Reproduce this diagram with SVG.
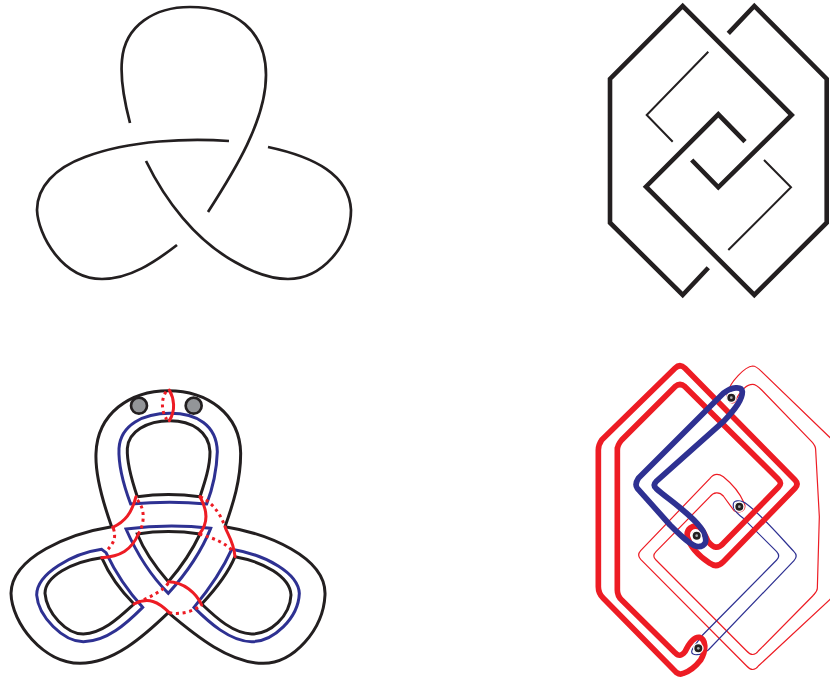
<svg xmlns="http://www.w3.org/2000/svg" width="830" height="679" viewBox="0 0 830 679">
<style>
path,polyline{fill:none;stroke-linecap:butt;stroke-linejoin:miter}
.k{stroke:#231f20}
.tre{stroke:#231f20;stroke-width:2.7}
.bk{stroke:#231f20;stroke-width:9}
.bl{stroke:#2e3192;stroke-width:9}
.rs{stroke:#ed1c24;stroke-width:9;stroke-linecap:round}
.rd{stroke:#ed1c24;stroke-width:9;stroke-dasharray:9 11}
.rt{stroke:#ed1c24;stroke-width:3.6}
.bt{stroke:#2e3192;stroke-width:3.6}
.rT{stroke:#ed1c24;stroke-width:17;stroke-linejoin:round}
.bT{stroke:#2e3192;stroke-width:17;stroke-linejoin:round}
</style>
<g id="trefoil-plain">
<path class="tre" d="M130,123C124,100 120,80 122,60C125,25 155,7 190,7C235,7 266,30 266,75C266,120 235,170 208,212"/>
<path class="tre" d="M229,141C190,138 130,140 85,157C55,168 37,187 37,210C38,235 62,279 102,279C130,279 155,262 177,245"/>
<path class="tre" d="M146,161C165,200 195,240 235,262C252,272 270,279 288,279C322,279 351,245 351,210C349,175 315,157 268,147"/>
</g>
<g id="grid-knot">
<polyline class="k" stroke-width="4.6" points="708.3,267.7 682.7,295 610,222.7 610,79 682.7,6 791.7,115 718.3,187.3 691.7,160"/>
<polyline class="k" stroke-width="4.6" points="728.3,33.3 754.3,6 826.7,79 826.7,222.7 754.3,295 646,186.7 718.3,114.3 745,141.7"/>
<polyline class="k" stroke-width="2" points="708.3,51.7 646.7,115 672.7,141.7"/>
<polyline class="k" stroke-width="2" points="764,160 791,187.3 728.3,250"/>
</g>
<g id="trefoil-surface" transform="translate(0 380) scale(.33333)">
<circle cx="417" cy="77" r="24" fill="#939598" stroke="#231f20" stroke-width="8"/>
<circle cx="581" cy="77" r="24" fill="#939598" stroke="#231f20" stroke-width="8"/>
<path class="bk" d="M335,440C310,370 285,290 288,220C292,100 390,32 505,32C620,32 720,100 722,220C722,300 700,370 675,440"/>
<path class="bk" d="M675,440C800,460 980,530 975,645C970,750 880,850 790,850C690,850 590,770 505,698"/>
<path class="bk" d="M335,440C210,460 35,530 33,640C35,730 130,850 240,850C340,850 430,770 505,698"/>
<path class="bk" d="M412,350C395,300 380,250 382,205C385,155 440,122 510,122C575,122 628,155 630,215C630,260 615,305 600,350"/>
<path class="bk" d="M412,350C470,342 540,342 600,350"/>
<path class="bk" d="M412,462C470,453 540,453 600,462C575,515 540,565 505,605C470,565 435,520 412,462Z"/>
<path class="bk" d="M402,672C360,710 310,760 250,762C200,762 140,700 135,640C135,590 215,545 305,533C330,590 365,635 402,672"/>
<path class="bk" d="M605,672C650,715 700,760 755,762C810,762 870,710 873,645C870,590 790,545 705,530C680,590 640,635 605,672"/>
<path class="bl" d="M392,372C365,300 355,250 357,205C362,135 430,100 510,100C590,100 650,135 652,215C650,270 640,320 620,372C550,365 470,365 392,372Z"/>
<path class="bl" d="M378,447C470,435 550,435 632,445C600,525 550,590 505,640C450,585 410,520 378,447Z"/>
<path class="bl" d="M305,508L318,518C345,575 385,635 428,682C380,730 320,785 250,785C190,785 115,710 110,645C110,580 220,520 305,508Z"/>
<path class="bl" d="M695,508C800,525 895,580 898,640C895,715 820,785 755,785C690,785 625,725 582,682C625,630 665,575 695,508Z"/>
<path class="rs" d="M508,30C522,55 528,90 508,122"/>
<path class="rd" d="M498,35C482,60 485,95 500,118"/>
<path class="rs" d="M408,350C395,400 375,425 338,442"/>
<path class="rd" d="M340,445C350,475 340,490 318,515"/>
<path class="rs" d="M305,533C360,530 395,510 415,462"/>
<path class="rd" d="M412,360C435,385 435,430 415,462"/>
<path class="rs" d="M600,350C625,395 625,430 598,462"/>
<path class="rd" d="M600,350C640,370 660,400 675,440"/>
<path class="rs" d="M675,440C680,460 700,480 705,530"/>
<path class="rd" d="M598,462C640,475 670,485 695,510"/>
<path class="rs" d="M505,605C550,605 590,640 605,675"/>
<path class="rd" d="M505,610C480,640 440,655 402,672"/>
<path class="rs" d="M402,672C445,650 475,665 508,698"/>
<path class="rd" d="M508,698C540,705 585,695 605,672"/>
</g>
<g id="grid-surface" transform="translate(580 350) scale(.33333)">
<path class="rt" d="M442,130C450,95 495,50 518,48C528,48 535,55 545,65L745,258C760,272 770,285 775,295L775,720C770,735 760,740 750,748L535,948C525,962 512,962 500,948L182,628Q170,615 182,602L390,385C400,372 415,370 430,380C455,400 480,430 492,458"/>
<path class="rt" d="M466,152C480,125 500,103 518,103C528,103 535,110 545,120L695,275C705,285 707,292 707,300L718,500L712,715C712,725 705,730 698,738L535,903C525,917 512,917 500,903L228,630Q215,618 228,605L390,440C400,426 418,424 430,438L462,482"/>
<path class="rt" d="M442,130C435,155 462,170 468,148"/>
<path class="rt" d="M492,458C502,480 480,492 462,482"/>
<path class="bt" d="M460,465C458,450 480,450 495,458C540,490 600,560 642,605Q655,618 642,632L385,900C360,918 335,918 335,905C335,895 350,880 365,858L590,630Q602,618 590,605L490,505C470,490 458,475 460,465Z"/>
<path class="rT" d="M112,295L112,720Q112,738 125,750L285,908Q300,925 315,905C328,878 345,860 358,862C378,868 380,900 362,930C345,952 325,965 310,970Q300,975 290,968L70,745Q55,730 55,710L55,300Q55,285 65,270L285,55Q300,40 315,55L645,390Q657,402 645,415L430,635Q410,655 390,640C360,620 330,590 322,560C318,535 340,525 355,530C370,535 380,570 385,575Q408,605 430,580L595,412Q608,400 595,388L315,110Q300,97 285,110L125,270Q112,285 112,300Z"/>
<path class="bT" d="M175,385L430,130C455,110 485,108 487,125C488,150 455,190 430,215L228,395Q218,405 228,415C260,445 345,500 370,545C385,575 375,590 355,590C335,590 300,555 270,525L172,415Q163,403 175,385Z"/>
<g fill="#231f20" stroke="#fff" stroke-width="4">
<circle cx="454" cy="143" r="14"/><circle cx="478" cy="470" r="14"/><circle cx="350" cy="557" r="14"/><circle cx="355" cy="895" r="14"/>
</g>
<g fill="#a7a9ac">
<circle cx="454" cy="143" r="4"/><circle cx="478" cy="470" r="4"/><circle cx="350" cy="557" r="4"/><circle cx="355" cy="895" r="4"/>
</g>
</g>
</svg>
